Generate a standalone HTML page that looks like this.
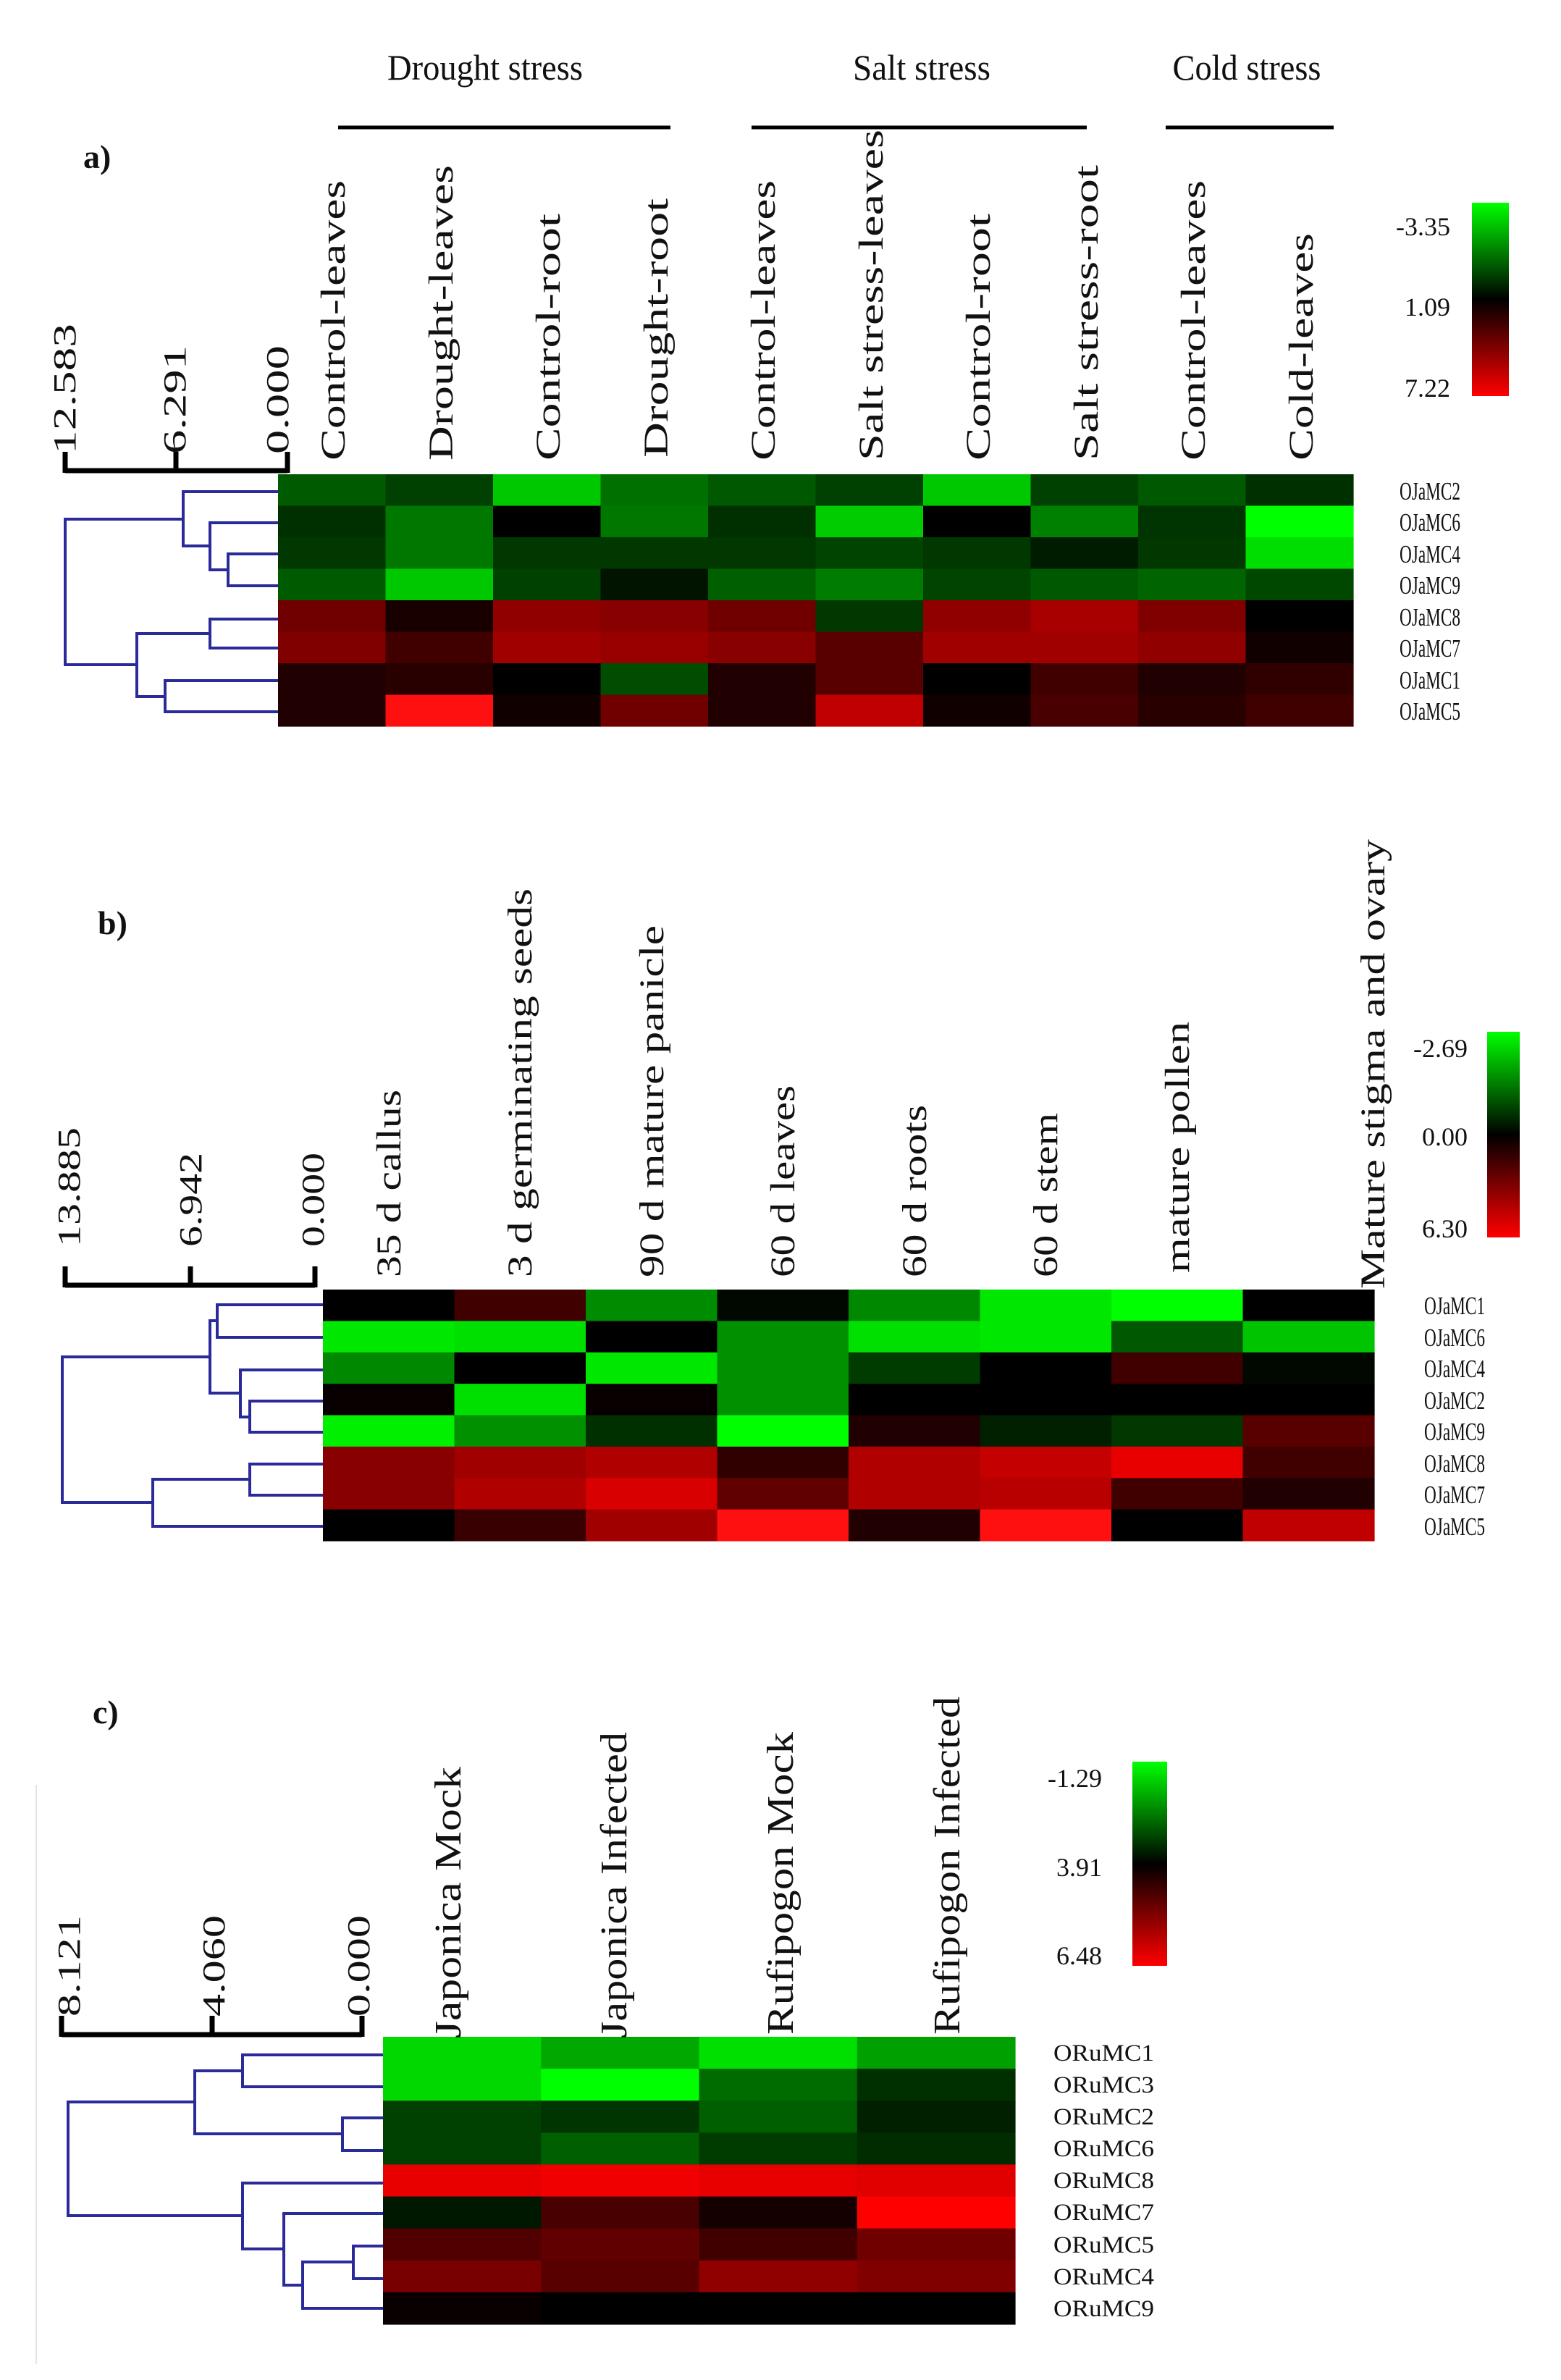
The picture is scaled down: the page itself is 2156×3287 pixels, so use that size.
<!DOCTYPE html>
<html><head><meta charset="utf-8"><style>
html,body{margin:0;padding:0;background:#fff;}
svg{display:block;}
text{font-family:"Liberation Serif",serif;fill:#111;}
</style></head><body>
<svg id="s" xmlns="http://www.w3.org/2000/svg" width="2156" height="3287" viewBox="0 0 2156 3287">
<defs>
<linearGradient id="lg" x1="0" y1="0" x2="0" y2="1">
<stop offset="0" stop-color="#00ff00"/><stop offset="0.5" stop-color="#000000"/><stop offset="1" stop-color="#ff0000"/>
</linearGradient>
</defs>
<rect width="2156" height="3287" fill="#fff"/>
<g id="cells"></g>

<g font-size="50">
<text x="670" y="110" text-anchor="middle" textLength="270" lengthAdjust="spacingAndGlyphs">Drought stress</text>
<text x="1273" y="110" text-anchor="middle" textLength="190" lengthAdjust="spacingAndGlyphs">Salt stress</text>
<text x="1722" y="110" text-anchor="middle" textLength="205" lengthAdjust="spacingAndGlyphs">Cold stress</text>
</g>
<g stroke="#000" stroke-width="5">
<line x1="467" y1="176" x2="926" y2="176"/>
<line x1="1038" y1="176" x2="1501" y2="176"/>
<line x1="1610" y1="176" x2="1842" y2="176"/>
</g>
<text x="115" y="232" font-size="46" font-weight="bold">a)</text>
<text x="135" y="1290" font-size="46" font-weight="bold">b)</text>
<text x="128" y="2380" font-size="46" font-weight="bold">c)</text>

<g font-size="48">
<text transform="translate(476,636) rotate(-90)" textLength="387" lengthAdjust="spacingAndGlyphs">Control-leaves</text>
<text transform="translate(625,636) rotate(-90)" textLength="408" lengthAdjust="spacingAndGlyphs">Drought-leaves</text>
<text transform="translate(773,636) rotate(-90)" textLength="341" lengthAdjust="spacingAndGlyphs">Control-root</text>
<text transform="translate(922,632) rotate(-90)" textLength="358" lengthAdjust="spacingAndGlyphs">Drought-root</text>
<text transform="translate(1070,636) rotate(-90)" textLength="387" lengthAdjust="spacingAndGlyphs">Control-leaves</text>
<text transform="translate(1219,636) rotate(-90)" textLength="457" lengthAdjust="spacingAndGlyphs">Salt stress-leaves</text>
<text transform="translate(1367,636) rotate(-90)" textLength="341" lengthAdjust="spacingAndGlyphs">Control-root</text>
<text transform="translate(1516,636) rotate(-90)" textLength="408" lengthAdjust="spacingAndGlyphs">Salt stress-root</text>
<text transform="translate(1664,636) rotate(-90)" textLength="387" lengthAdjust="spacingAndGlyphs">Control-leaves</text>
<text transform="translate(1813,636) rotate(-90)" textLength="314" lengthAdjust="spacingAndGlyphs">Cold-leaves</text>
</g>
<g font-size="48">
<text transform="translate(553,1764) rotate(-90)" textLength="259" lengthAdjust="spacingAndGlyphs">35 d callus</text>
<text transform="translate(734,1764) rotate(-90)" textLength="537" lengthAdjust="spacingAndGlyphs">3 d germinating seeds</text>
<text transform="translate(916,1764) rotate(-90)" textLength="486" lengthAdjust="spacingAndGlyphs">90 d mature panicle</text>
<text transform="translate(1097,1764) rotate(-90)" textLength="265" lengthAdjust="spacingAndGlyphs">60 d leaves</text>
<text transform="translate(1279,1764) rotate(-90)" textLength="238" lengthAdjust="spacingAndGlyphs">60 d roots</text>
<text transform="translate(1460,1764) rotate(-90)" textLength="227" lengthAdjust="spacingAndGlyphs">60 d stem</text>
<text transform="translate(1642,1758) rotate(-90)" textLength="347" lengthAdjust="spacingAndGlyphs">mature pollen</text>
<text transform="translate(1912,1780) rotate(-90)" textLength="621" lengthAdjust="spacingAndGlyphs">Mature stigma and ovary</text>
</g>
<g font-size="52">
<text transform="translate(636,2815) rotate(-90)" textLength="375" lengthAdjust="spacingAndGlyphs">Japonica Mock</text>
<text transform="translate(865,2815) rotate(-90)" textLength="423" lengthAdjust="spacingAndGlyphs">Japonica Infected</text>
<text transform="translate(1095,2810) rotate(-90)" textLength="418" lengthAdjust="spacingAndGlyphs">Rufipogon Mock</text>
<text transform="translate(1325,2810) rotate(-90)" textLength="467" lengthAdjust="spacingAndGlyphs">Rufipogon Infected</text>
</g>

<g font-size="44">
<text transform="translate(104,627) rotate(-90)" textLength="180" lengthAdjust="spacingAndGlyphs">12.583</text>
<text transform="translate(256,627) rotate(-90)" textLength="150" lengthAdjust="spacingAndGlyphs">6.291</text>
<text transform="translate(398,627) rotate(-90)" textLength="150" lengthAdjust="spacingAndGlyphs">0.000</text>
<text transform="translate(110,1722) rotate(-90)" textLength="165" lengthAdjust="spacingAndGlyphs">13.885</text>
<text transform="translate(278,1722) rotate(-90)" textLength="130" lengthAdjust="spacingAndGlyphs">6.942</text>
<text transform="translate(447,1722) rotate(-90)" textLength="130" lengthAdjust="spacingAndGlyphs">0.000</text>
<text transform="translate(110,2785) rotate(-90)" textLength="140" lengthAdjust="spacingAndGlyphs">8.121</text>
<text transform="translate(310,2785) rotate(-90)" textLength="140" lengthAdjust="spacingAndGlyphs">4.060</text>
<text transform="translate(510,2785) rotate(-90)" textLength="140" lengthAdjust="spacingAndGlyphs">0.000</text>
</g>

<g stroke="#000" stroke-width="7" fill="none">
<path d="M90,650 H397 M90,624 V653 M243,624 V653 M397,624 V653"/>
<path d="M90,1775 H435 M90,1749 V1778 M263,1749 V1778 M435,1749 V1778"/>
<path d="M85,2810 H500 M85,2784 V2813 M293,2784 V2813 M500,2784 V2813"/>
</g>

<g stroke="#2a2a9a" stroke-width="4" fill="none">
<path d="M384,765 H315 V809 H384 M384,722 H290 V787 H315 M384,679 H253 V754 H290 M384,855 H290 V895 H384 M384,940 H228 V983 H384 M290,875 H189 V962 H228 M253,717 H90 V918 H189"/>
<path d="M446,1802 H300 V1847 H446 M446,1935 H345 V1978 H446 M446,1892 H332 V1957 H345 M300,1824 H290 V1924 H332 M446,2022 H345 V2065 H446 M345,2043 H211 V2108 H446 M290,1874 H86 V2075 H211"/>
<path d="M529,2838 H335 V2882 H529 M529,2925 H473 V2970 H529 M335,2860 H269 V2947 H473 M529,3102 H488 V3147 H529 M488,3124 H418 V3188 H529 M529,3057 H392 V3156 H418 M529,3015 H335 V3106 H392 M269,2903 H94 V3060 H335"/>
</g>
<line x1="50" y1="2465" x2="50" y2="3265" stroke="#e4e4e4" stroke-width="2"/>

<g font-size="35">
<text x="1933" y="690" textLength="84" lengthAdjust="spacingAndGlyphs">OJaMC2</text>
<text x="1933" y="733" textLength="84" lengthAdjust="spacingAndGlyphs">OJaMC6</text>
<text x="1933" y="777" textLength="84" lengthAdjust="spacingAndGlyphs">OJaMC4</text>
<text x="1933" y="820" textLength="84" lengthAdjust="spacingAndGlyphs">OJaMC9</text>
<text x="1933" y="864" textLength="84" lengthAdjust="spacingAndGlyphs">OJaMC8</text>
<text x="1933" y="907" textLength="84" lengthAdjust="spacingAndGlyphs">OJaMC7</text>
<text x="1933" y="951" textLength="84" lengthAdjust="spacingAndGlyphs">OJaMC1</text>
<text x="1933" y="994" textLength="84" lengthAdjust="spacingAndGlyphs">OJaMC5</text>

<text x="1967" y="1815" textLength="84" lengthAdjust="spacingAndGlyphs">OJaMC1</text>
<text x="1967" y="1859" textLength="84" lengthAdjust="spacingAndGlyphs">OJaMC6</text>
<text x="1967" y="1902" textLength="84" lengthAdjust="spacingAndGlyphs">OJaMC4</text>
<text x="1967" y="1946" textLength="84" lengthAdjust="spacingAndGlyphs">OJaMC2</text>
<text x="1967" y="1989" textLength="84" lengthAdjust="spacingAndGlyphs">OJaMC9</text>
<text x="1967" y="2033" textLength="84" lengthAdjust="spacingAndGlyphs">OJaMC8</text>
<text x="1967" y="2076" textLength="84" lengthAdjust="spacingAndGlyphs">OJaMC7</text>
<text x="1967" y="2120" textLength="84" lengthAdjust="spacingAndGlyphs">OJaMC5</text>
</g>
<g font-size="33">
<text x="1455" y="2846" textLength="139" lengthAdjust="spacingAndGlyphs">ORuMC1</text>
<text x="1455" y="2890" textLength="139" lengthAdjust="spacingAndGlyphs">ORuMC3</text>
<text x="1455" y="2934" textLength="139" lengthAdjust="spacingAndGlyphs">ORuMC2</text>
<text x="1455" y="2978" textLength="139" lengthAdjust="spacingAndGlyphs">ORuMC6</text>
<text x="1455" y="3022" textLength="139" lengthAdjust="spacingAndGlyphs">ORuMC8</text>
<text x="1455" y="3066" textLength="139" lengthAdjust="spacingAndGlyphs">ORuMC7</text>
<text x="1455" y="3111" textLength="139" lengthAdjust="spacingAndGlyphs">ORuMC5</text>
<text x="1455" y="3155" textLength="139" lengthAdjust="spacingAndGlyphs">ORuMC4</text>
<text x="1455" y="3199" textLength="139" lengthAdjust="spacingAndGlyphs">ORuMC9</text>
</g>

<rect x="2033" y="280" width="51" height="267" fill="url(#lg)"/>
<rect x="2054" y="1425" width="45" height="284" fill="url(#lg)"/>
<rect x="1564" y="2433" width="48" height="282" fill="url(#lg)"/>
<g font-size="36" text-anchor="end">
<text x="2003" y="325">-3.35</text>
<text x="2003" y="436">1.09</text>
<text x="2003" y="548">7.22</text>
<text x="2027" y="1460">-2.69</text>
<text x="2027" y="1582">0.00</text>
<text x="2027" y="1709">6.30</text>
<text x="1522" y="2468">-1.29</text>
<text x="1522" y="2591">3.91</text>
<text x="1522" y="2713">6.48</text>
</g>
</svg>
<script>
(function(){
var g=document.getElementById('cells');
function hm(x0,y0,x1,y1,rows){
  var nr=rows.length,nc=rows[0].length,w=(x1-x0)/nc,h=(y1-y0)/nr;
  for(var r=0;r<nr;r++)for(var c=0;c<nc;c++){
    var e=document.createElementNS('http://www.w3.org/2000/svg','rect');
    e.setAttribute('x',(x0+c*w).toFixed(2));e.setAttribute('y',(y0+r*h).toFixed(2));
    e.setAttribute('width',(w+0.6).toFixed(2));e.setAttribute('height',(h+0.6).toFixed(2));
    e.setAttribute('fill',rows[r][c]);g.appendChild(e);
  }
}
hm(384,655,1869,1003,[
["#005a00","#004000","#00c800","#007000","#005800","#004000","#00c800","#004000","#005800","#003000"],
["#003000","#007800","#000000","#007800","#003000","#00cc00","#000000","#008000","#003400","#00ff00"],
["#003800","#007800","#003800","#003800","#003800","#004400","#003800","#001c00","#003800","#00dd00"],
["#005a00","#00c800","#004000","#001400","#006000","#007c00","#004400","#005800","#006400","#004800"],
["#700000","#180000","#900000","#880000","#700000","#003800","#900000","#a80000","#800000","#000000"],
["#800000","#400000","#a00000","#980000","#880000","#580000","#a00000","#a00000","#900000","#100000"],
["#200000","#280000","#000000","#004c00","#200000","#580000","#000000","#400000","#200000","#300000"],
["#200000","#ff1010","#100000","#700000","#200000","#c00000","#100000","#480000","#280000","#400000"]]);
hm(446,1781,1898,2128,[
["#000000","#400000","#008c00","#000800","#008800","#00e800","#00ff00","#000000"],
["#00e800","#00e000","#000000","#009000","#00e000","#00e800","#005800","#00c400"],
["#008800","#000000","#00e800","#009000","#003c00","#000000","#400000","#000800"],
["#080000","#00e000","#080000","#009000","#000000","#000000","#000000","#000000"],
["#00f000","#009000","#003000","#00ff00","#200000","#002000","#003800","#580000"],
["#880000","#a00000","#b00000","#300000","#b00000","#c40000","#e80000","#400000"],
["#880000","#b00000","#d80000","#600000","#b00000","#b80000","#400000","#200000"],
["#000000","#380000","#a00000","#ff1010","#200000","#ff1010","#000000","#c00000"]]);
hm(529,2813,1402,3210,[
["#00d800","#00a800","#00e000","#00a000"],
["#00d800","#00ff00","#006c00","#003000"],
["#004000","#003400","#006000","#002000"],
["#004000","#006000","#003c00","#002c00"],
["#e80000","#f00000","#e80000","#e00000"],
["#001800","#480000","#140000","#ff0000"],
["#500000","#600000","#400000","#700000"],
["#780000","#580000","#900000","#800000"],
["#080000","#000000","#000000","#000000"]]);
})();
</script>
</body></html>
